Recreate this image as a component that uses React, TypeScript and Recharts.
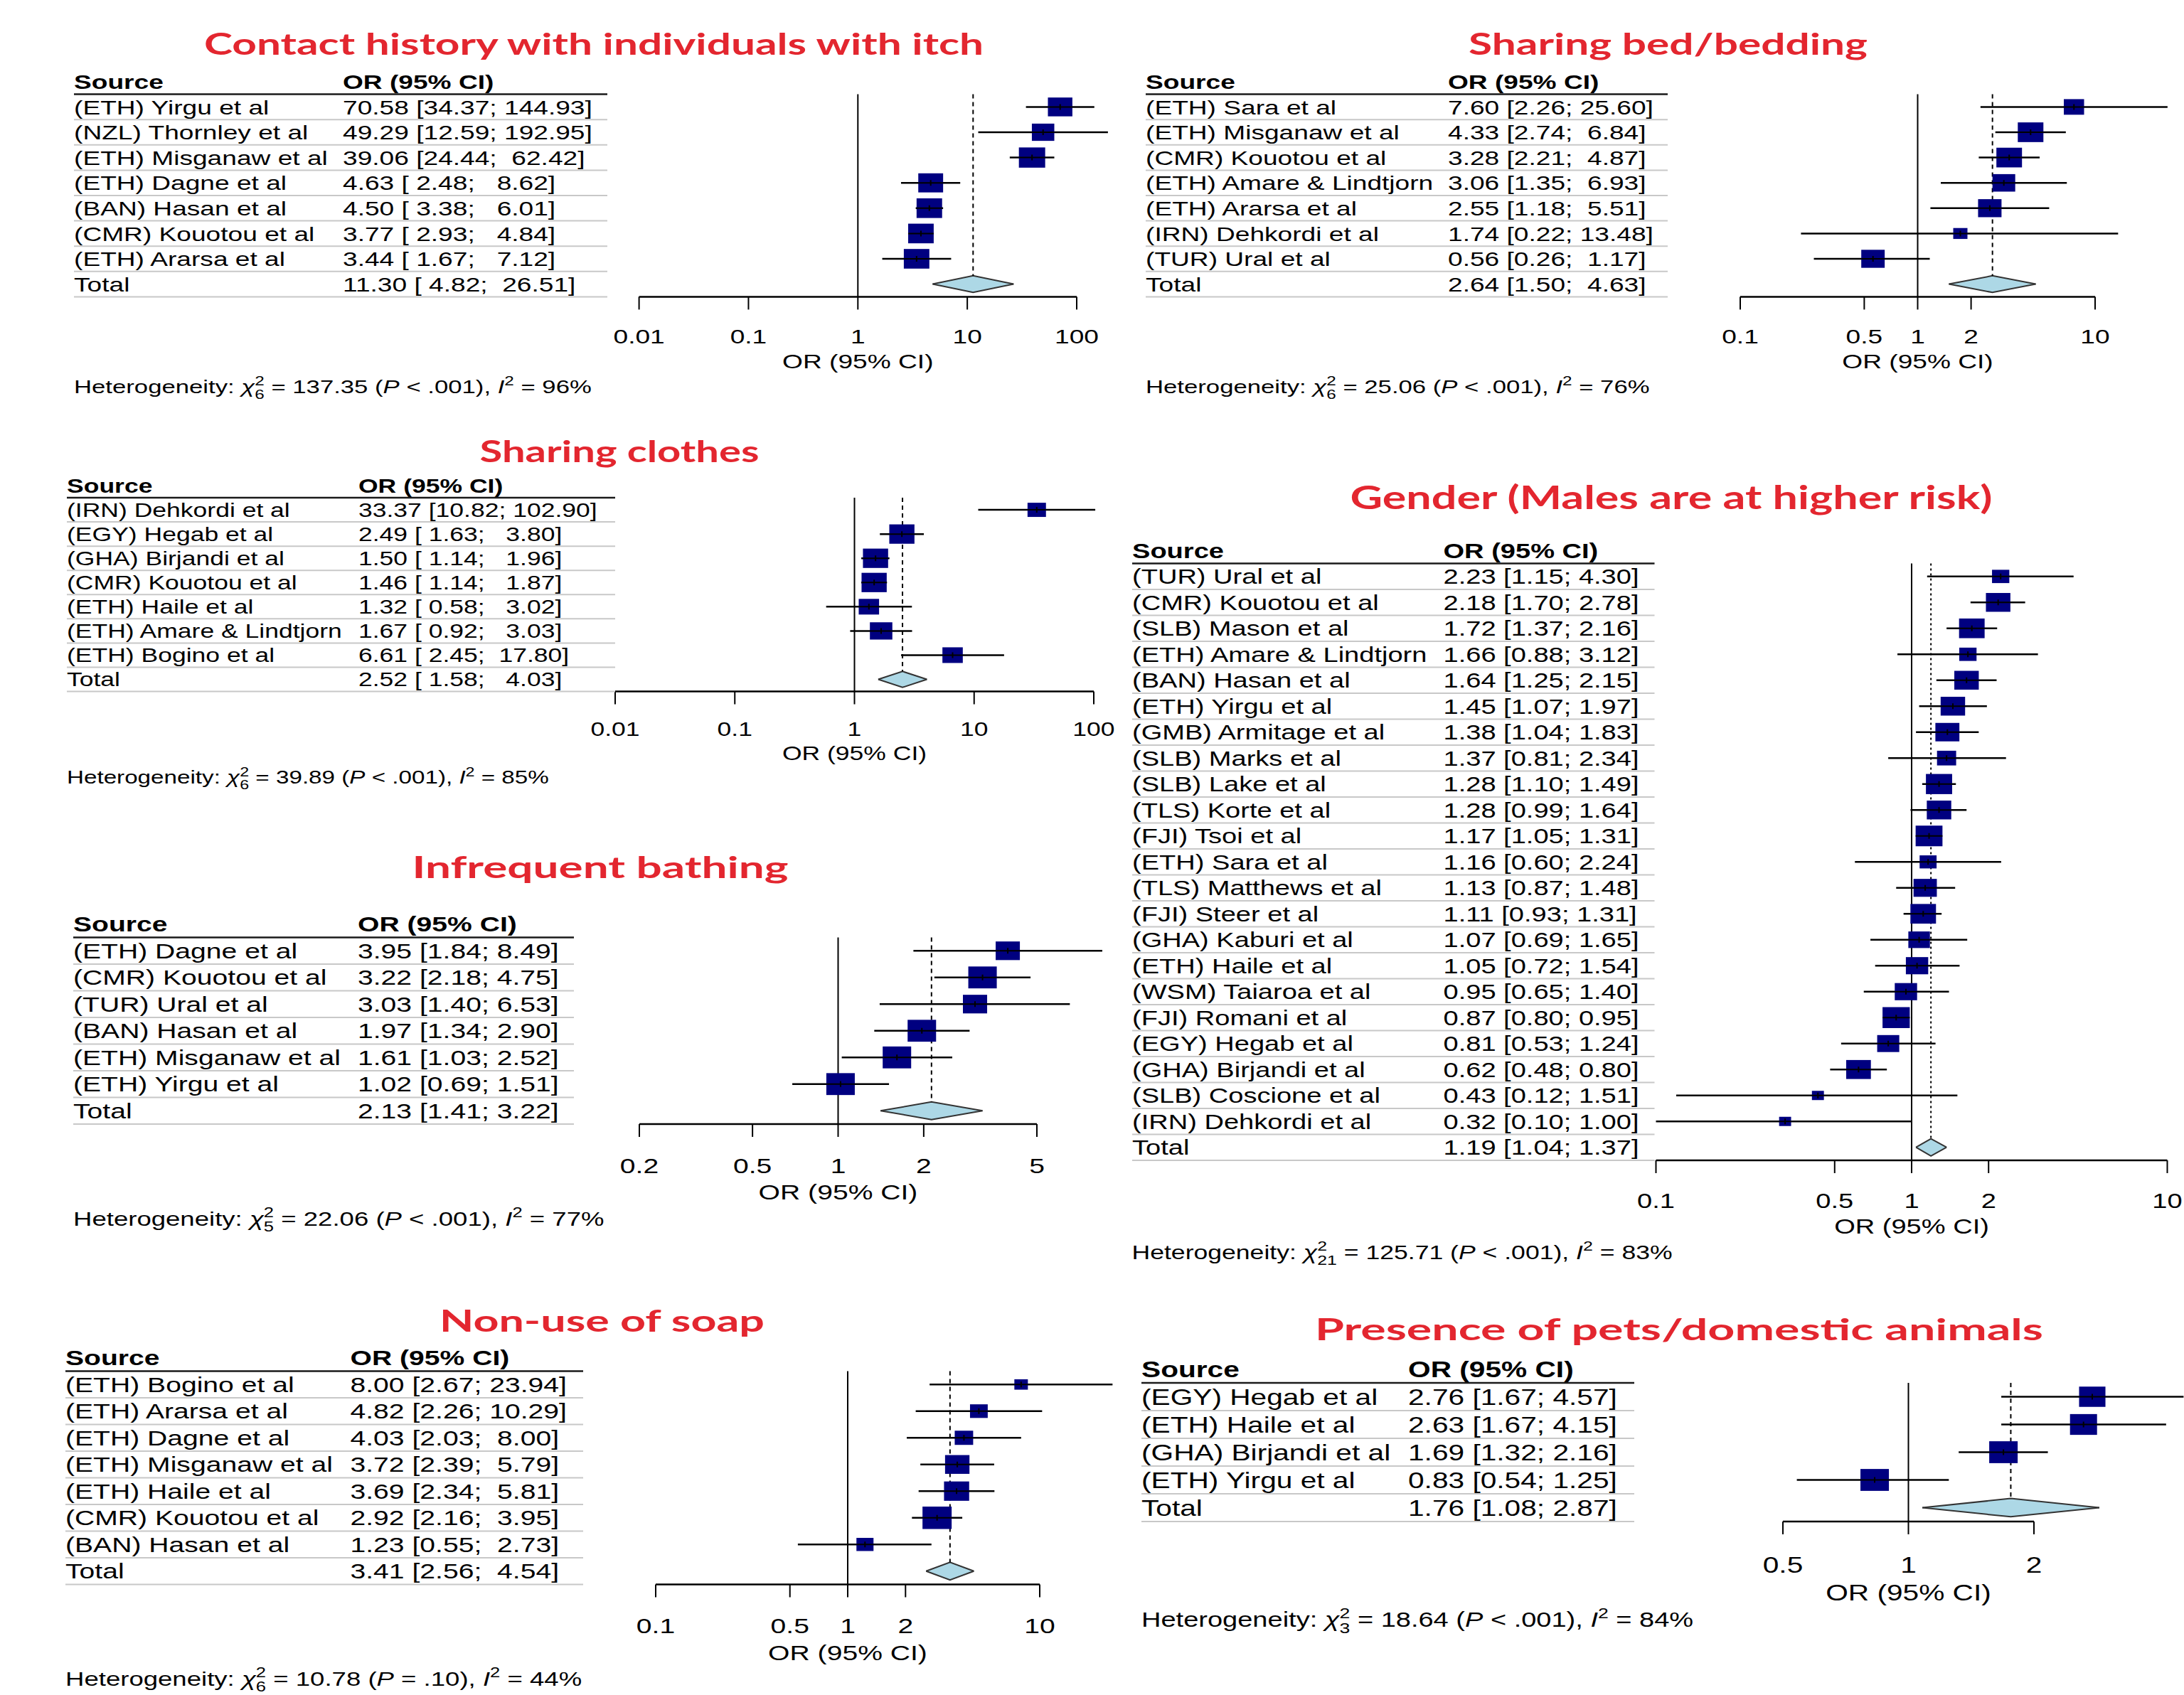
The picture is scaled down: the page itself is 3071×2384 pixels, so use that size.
import React from "react";
import { ComposedChart, XAxis, YAxis, Scatter, Area, ReferenceLine } from "recharts";

const TABLE_FONT = '"Liberation Sans", Arial, Helvetica, sans-serif';
const TITLE_FONT = 'Lato, "Open Sans", sans-serif';
const TITLE_RED = "#E3262F";
const BOX_FILL = "#000080";
const DIAMOND_FILL = "#ADD8E6";
const SX = 1.32;
const DIAMOND_H = 0.33;

// ---------- Contact history ----------
const contactTitle = "Contact history with individuals with itch";
const contactStudies = ["(ETH) Yirgu et al", "(NZL) Thornley et al", "(ETH) Misganaw et al", "(ETH) Dagne et al", "(BAN) Hasan et al", "(CMR) Kouotou et al", "(ETH) Ararsa et al"];
const contactOR = [70.58, 49.29, 39.06, 4.63, 4.5, 3.77, 3.44];
const contactLo = [34.37, 12.59, 24.44, 2.48, 3.38, 2.93, 1.67];
const contactHi = [144.93, 192.95, 62.42, 8.62, 6.01, 4.84, 7.12];
const contactWeight = [13.7, 11.5, 15.8, 14.1, 14.9, 14.9, 14.9];
const contactTotal = [11.3, 4.82, 26.51];
const contactTicks = [0.01, 0.1, 1, 10, 100];
const contactHet = { chi: "137.35", df: "6", p: "< .001", i2: "96" };

// ---------- Sharing bed ----------
const bedTitle = "Sharing bed/bedding";
const bedStudies = ["(ETH) Sara et al", "(ETH) Misganaw et al", "(CMR) Kouotou et al", "(ETH) Amare & Lindtjorn", "(ETH) Ararsa et al", "(IRN) Dehkordi et al", "(TUR) Ural et al"];
const bedOR = [7.6, 4.33, 3.28, 3.06, 2.55, 1.74, 0.56];
const bedLo = [2.26, 2.74, 2.21, 1.35, 1.18, 0.22, 0.26];
const bedHi = [25.6, 6.84, 4.87, 6.93, 5.51, 13.48, 1.17];
const bedWeight = [11.6, 18.5, 18.5, 14.6, 15.5, 5.7, 15.5];
const bedTotal = [2.64, 1.5, 4.63];
const bedTicks = [0.1, 0.5, 1, 2, 10];
const bedHet = { chi: "25.06", df: "6", p: "< .001", i2: "76" };

// ---------- Sharing clothes ----------
const clothesTitle = "Sharing clothes";
const clothesStudies = ["(IRN) Dehkordi et al", "(EGY) Hegab et al", "(GHA) Birjandi et al", "(CMR) Kouotou et al", "(ETH) Haile et al", "(ETH) Amare & Lindtjorn", "(ETH) Bogino et al"];
const clothesOR = [33.37, 2.49, 1.5, 1.46, 1.32, 1.67, 6.61];
const clothesLo = [10.82, 1.63, 1.14, 1.14, 0.58, 0.92, 2.45];
const clothesHi = [102.9, 3.8, 1.96, 1.87, 3.02, 3.03, 17.8];
const clothesWeight = [9.5, 17.7, 17.7, 17.7, 11.6, 14.1, 11.6];
const clothesTotal = [2.52, 1.58, 4.03];
const clothesTicks = [0.01, 0.1, 1, 10, 100];
const clothesHet = { chi: "39.89", df: "6", p: "< .001", i2: "85" };

// ---------- Infrequent bathing ----------
const bathingTitle = "Infrequent bathing";
const bathingStudies = ["(ETH) Dagne et al", "(CMR) Kouotou et al", "(TUR) Ural et al", "(BAN) Hasan et al", "(ETH) Misganaw et al", "(ETH) Yirgu et al"];
const bathingOR = [3.95, 3.22, 3.03, 1.97, 1.61, 1.02];
const bathingLo = [1.84, 2.18, 1.4, 1.34, 1.03, 0.69];
const bathingHi = [8.49, 4.75, 6.53, 2.9, 2.52, 1.51];
const bathingWeight = [13.3, 18.4, 13.3, 18.4, 18.4, 18.4];
const bathingTotal = [2.13, 1.41, 3.22];
const bathingTicks = [0.2, 0.5, 1, 2, 5];
const bathingHet = { chi: "22.06", df: "5", p: "< .001", i2: "77" };

// ---------- Gender ----------
const genderTitle = "Gender (Males are at higher risk)";
const genderStudies = ["(TUR) Ural et al", "(CMR) Kouotou et al", "(SLB) Mason et al", "(ETH) Amare & Lindtjorn", "(BAN) Hasan et al", "(ETH) Yirgu et al", "(GMB) Armitage et al", "(SLB) Marks et al", "(SLB) Lake et al", "(TLS) Korte et al", "(FJI) Tsoi et al", "(ETH) Sara et al", "(TLS) Matthews et al", "(FJI) Steer et al", "(GHA) Kaburi et al", "(ETH) Haile et al", "(WSM) Taiaroa et al", "(FJI) Romani et al", "(EGY) Hegab et al", "(GHA) Birjandi et al", "(SLB) Coscione et al", "(IRN) Dehkordi et al"];
const genderOR = [2.23, 2.18, 1.72, 1.66, 1.64, 1.45, 1.38, 1.37, 1.28, 1.28, 1.17, 1.16, 1.13, 1.11, 1.07, 1.05, 0.95, 0.87, 0.81, 0.62, 0.43, 0.32];
const genderLo = [1.15, 1.7, 1.37, 0.88, 1.25, 1.07, 1.04, 0.81, 1.1, 0.99, 1.05, 0.6, 0.87, 0.93, 0.69, 0.72, 0.65, 0.8, 0.53, 0.48, 0.12, 0.1];
const genderHi = [4.3, 2.78, 2.16, 3.12, 2.15, 1.97, 1.83, 2.34, 1.49, 1.64, 1.31, 2.24, 1.48, 1.31, 1.65, 1.54, 1.4, 0.95, 1.24, 0.8, 1.51, 1.0];
const genderWeight = [2.7, 5.4, 5.9, 2.7, 5.4, 5.4, 5.2, 3.3, 6.2, 5.4, 6.5, 2.6, 4.9, 5.9, 4.2, 4.5, 4.5, 6.7, 4.4, 5.5, 1.3, 1.3];
const genderTotal = [1.19, 1.04, 1.37];
const genderTicks = [0.1, 0.5, 1, 2, 10];
const genderHet = { chi: "125.71", df: "21", p: "< .001", i2: "83" };

// ---------- Non-use of soap ----------
const soapTitle = "Non-use of soap";
const soapStudies = ["(ETH) Bogino et al", "(ETH) Ararsa et al", "(ETH) Dagne et al", "(ETH) Misganaw et al", "(ETH) Haile et al", "(CMR) Kouotou et al", "(BAN) Hasan et al"];
const soapOR = [8.0, 4.82, 4.03, 3.72, 3.69, 2.92, 1.23];
const soapLo = [2.67, 2.26, 2.03, 2.39, 2.34, 2.16, 0.55];
const soapHi = [23.94, 10.29, 8.0, 5.79, 5.81, 3.95, 2.73];
const soapWeight = [5.7, 9.8, 10.6, 18.6, 19.7, 26.5, 9.1];
const soapTotal = [3.41, 2.56, 4.54];
const soapTicks = [0.1, 0.5, 1, 2, 10];
const soapHet = { chi: "10.78", df: "6", p: "= .10", i2: "44" };

// ---------- Pets ----------
const petsTitle = "Presence of pets/domestic animals";
const petsStudies = ["(EGY) Hegab et al", "(ETH) Haile et al", "(GHA) Birjandi et al", "(ETH) Yirgu et al"];
const petsOR = [2.76, 2.63, 1.69, 0.83];
const petsLo = [1.67, 1.67, 1.32, 0.54];
const petsHi = [4.57, 4.15, 2.16, 1.25];
const petsWeight = [22.8, 24.0, 26.6, 26.6];
const petsTotal = [1.76, 1.08, 2.87];
const petsTicks = [0.5, 1, 2];
const petsHet = { chi: "18.64", df: "3", p: "< .001", i2: "84" };

type Layout = {
  tableLeft: number; orX: number; tableRight: number; underline: number; rowH: number;
  axisX0: number; axisX1: number; right: number; domainMax?: number; boxK: number; dash: string;
  titleCx: number; titleY: number; titleW: number; titleSize: number;
};

type Panel = {
  title: string; studies: string[]; or: number[]; lo: number[]; hi: number[]; weight: number[];
  total: number[]; ticks: number[]; het: { chi: string; df: string; p: string; i2: string }; layout: Layout;
};

const panels: Panel[] = [
  { title: contactTitle, studies: contactStudies, or: contactOR, lo: contactLo, hi: contactHi, weight: contactWeight, total: contactTotal, ticks: contactTicks, het: contactHet,
    layout: { tableLeft: 104, orX: 482, tableRight: 854, underline: 133, rowH: 35.6, axisX0: 898.6, axisX1: 1514, right: 1580, boxK: 9.3, dash: "6 5", titleCx: 835, titleY: 77, titleW: 1096, titleSize: 42 } },
  { title: bedTitle, studies: bedStudies, or: bedOR, lo: bedLo, hi: bedHi, weight: bedWeight, total: bedTotal, ticks: bedTicks, het: bedHet,
    layout: { tableLeft: 1611, orX: 2036, tableRight: 2345, underline: 133, rowH: 35.6, axisX0: 2447, axisX1: 2946, right: 3071, boxK: 8.37, dash: "6 5", titleCx: 2345.5, titleY: 77, titleW: 561, titleSize: 42 } },
  { title: clothesTitle, studies: clothesStudies, or: clothesOR, lo: clothesLo, hi: clothesHi, weight: clothesWeight, total: clothesTotal, ticks: clothesTicks, het: clothesHet,
    layout: { tableLeft: 94, orX: 504, tableRight: 865, underline: 700.5, rowH: 34.06, axisX0: 865, axisX1: 1538, right: 1580, boxK: 8.41, dash: "6 5", titleCx: 871, titleY: 650, titleW: 393, titleSize: 42 } },
  { title: bathingTitle, studies: bathingStudies, or: bathingOR, lo: bathingLo, hi: bathingHi, weight: bathingWeight, total: bathingTotal, ticks: bathingTicks, het: bathingHet,
    layout: { tableLeft: 103, orX: 503, tableRight: 807, underline: 1318.6, rowH: 37.5, axisX0: 899, axisX1: 1458, right: 1580, boxK: 9.33, dash: "6 5", titleCx: 844, titleY: 1235, titleW: 529, titleSize: 42 } },
  { title: genderTitle, studies: genderStudies, or: genderOR, lo: genderLo, hi: genderHi, weight: genderWeight, total: genderTotal, ticks: genderTicks, het: genderHet,
    layout: { tableLeft: 1591.5, orX: 2029, tableRight: 2326, underline: 792.7, rowH: 36.5, axisX0: 2328, axisX1: 3047, right: 3071, boxK: 14.8, dash: "3 4", titleCx: 2350, titleY: 716, titleW: 903, titleSize: 45 } },
  { title: soapTitle, studies: soapStudies, or: soapOR, lo: soapLo, hi: soapHi, weight: soapWeight, total: soapTotal, ticks: soapTicks, het: soapHet,
    layout: { tableLeft: 92, orX: 492.5, tableRight: 820, underline: 1928, rowH: 37.5, axisX0: 922, axisX1: 1462, right: 1580, boxK: 7.96, dash: "6 5", titleCx: 846.5, titleY: 1873, titleW: 457, titleSize: 42 } },
  { title: petsTitle, studies: petsStudies, or: petsOR, lo: petsLo, hi: petsHi, weight: petsWeight, total: petsTotal, ticks: petsTicks, het: petsHet,
    layout: { tableLeft: 1605, orX: 1980, tableRight: 2298, underline: 1945, rowH: 39, axisX0: 2507, axisX1: 2860, right: 3071, domainMax: 4.5, boxK: 7.76, dash: "6 5", titleCx: 2361, titleY: 1885, titleW: 1024, titleSize: 42 } },
];

function SText(props: { x: number; y: number; children: any; anchor?: string; bold?: boolean; size: number; sx?: number }) {
  const { x, y, children, anchor = "start", bold = false, size, sx = SX } = props;
  return (
    <text
      transform={`translate(${x} ${y}) scale(${sx} 1)`}
      x={0}
      y={0}
      textAnchor={anchor as any}
      fontFamily={TABLE_FONT}
      fontSize={size}
      fontWeight={bold ? 700 : 400}
      fill="#000"
      style={{ whiteSpace: "pre" }}
    >
      {children}
    </text>
  );
}

function fmtCI(or: number, lo: number, hi: number, loW: number, hiW: number) {
  return `${or.toFixed(2)} [${lo.toFixed(2).padStart(loW)}; ${hi.toFixed(2).padStart(hiW)}]`;
}

function ForestPanel({ p }: { p: Panel }) {
  const L = p.layout;
  const n = p.studies.length;
  const fs = 0.79 * L.rowH;
  const axisMin = p.ticks[0];
  const axisMax = p.ticks[p.ticks.length - 1];
  const domainMax = L.domainMax ?? axisMax;
  const plotLeft = L.axisX0;
  const plotRight = L.axisX0 + ((L.axisX1 - L.axisX0) * Math.log(domainMax / axisMin)) / Math.log(axisMax / axisMin);
  const chartLeft = L.tableLeft - 10;
  const chartTop = L.underline - L.rowH;
  const xAxisH = 3.1 * L.rowH;
  const width = L.right - chartLeft;
  const height = (n + 2) * L.rowH + xAxisH;
  const TICK = 18;

  const [tor, tlo, thi] = p.total;
  const loW = Math.max(...[...p.lo, tlo].map((v) => v.toFixed(2).length));
  const hiW = Math.max(...[...p.hi, thi].map((v) => v.toFixed(2).length));
  const orTexts = p.or.map((v, i) => fmtCI(v, p.lo[i], p.hi[i], loW, hiW));
  const totalText = fmtCI(tor, tlo, thi, loW, hiW);

  const points = p.or.map((v, i) => ({ x: v, y: i + 1, w: p.weight[i] }));
  const diamond = [
    { x: tlo, band: [n + 1, n + 1] },
    { x: tor, band: [n + 1 - DIAMOND_H, n + 1 + DIAMOND_H] },
    { x: thi, band: [n + 1, n + 1] },
  ];
  const rowTicks = [0, ...p.studies.map((_, i) => i + 1), n + 1];

  const tableTick = (tp: any) => {
    const v = tp.payload.value;
    const y = tp.y;
    const base = y + 0.36 * fs;
    const ly = y + L.rowH / 2;
    const tl = L.tableLeft - chartLeft;
    const ox = L.orX - chartLeft;
    const tr = L.tableRight - chartLeft;
    let name = "";
    let txt = "";
    let bold = false;
    let lc = "#c8c8c8";
    let lw = 2;
    if (v === 0) {
      name = "Source";
      txt = "OR (95% CI)";
      bold = true;
      lc = "#1a1a1a";
      lw = 2.5;
    } else if (v === n + 1) {
      name = "Total";
      txt = totalText;
    } else {
      name = p.studies[v - 1];
      txt = orTexts[v - 1];
    }
    return (
      <g>
        <SText x={tl} y={base} size={fs} bold={bold}>{name}</SText>
        <SText x={ox} y={base} size={fs} bold={bold}>{txt}</SText>
        <line x1={tl} x2={tr} y1={ly} y2={ly} stroke={lc} strokeWidth={lw} />
      </g>
    );
  };

  const xTick = (tp: any) => {
    const v = tp.payload.value;
    const axisY = tp.y - TICK;
    return (
      <g>
        <SText x={tp.x} y={axisY + 1.55 * L.rowH + 0.36 * fs} size={fs} anchor="middle">{String(v)}</SText>
        {v === 1 ? (
          <SText x={tp.x} y={axisY + 2.55 * L.rowH + 0.36 * fs} size={fs} anchor="middle">OR (95% CI)</SText>
        ) : null}
      </g>
    );
  };

  const boxShape = (sp: any) => {
    const { cx, cy, payload } = sp;
    const bw = L.boxK * Math.sqrt(payload.w);
    const bh = bw / 1.3;
    return (
      <g>
        <rect x={cx - bw / 2} y={cy - bh / 2} width={bw} height={bh} fill={BOX_FILL} />
        <line x1={cx - bw / 2} x2={cx + bw / 2} y1={cy} y2={cy} stroke="#000" strokeWidth={2} />
        <line x1={cx} x2={cx} y1={cy - 4} y2={cy + 4} stroke="#000" strokeWidth={2} />
      </g>
    );
  };

  return (
    <div style={{ position: "absolute", left: chartLeft, top: chartTop }}>
      <ComposedChart width={width} height={height} margin={{ top: 0, right: L.right - plotRight, bottom: 0, left: 0 }}>
        <XAxis
          type="number"
          dataKey="x"
          scale="log"
          domain={[axisMin, domainMax]}
          allowDataOverflow
          ticks={p.ticks}
          interval={0}
          axisLine={false}
          tickLine={{ stroke: "#000", strokeWidth: 2 }}
          tickSize={TICK}
          tickMargin={0}
          height={xAxisH}
          tick={xTick}
        />
        <YAxis
          type="number"
          dataKey="y"
          domain={[-0.5, n + 1.5]}
          reversed
          allowDataOverflow
          ticks={rowTicks}
          interval={0}
          width={plotLeft - chartLeft}
          axisLine={false}
          tickLine={false}
          tick={tableTick}
        />
        <ReferenceLine segment={[{ x: 1, y: 0.5 }, { x: 1, y: n + 1.5 }]} stroke="#000" strokeWidth={2} ifOverflow="visible" />
        <ReferenceLine segment={[{ x: tor, y: 0.5 }, { x: tor, y: n + 1 - DIAMOND_H }]} stroke="#000" strokeWidth={2} strokeDasharray={L.dash} ifOverflow="visible" />
        <ReferenceLine segment={[{ x: axisMin, y: n + 1.5 }, { x: axisMax, y: n + 1.5 }]} stroke="#000" strokeWidth={2.5} ifOverflow="visible" />
        {p.or.map((_, i) => (
          <ReferenceLine key={i} segment={[{ x: p.lo[i], y: i + 1 }, { x: p.hi[i], y: i + 1 }]} stroke="#000" strokeWidth={2.5} ifOverflow="visible" />
        ))}
        <Area data={diamond} dataKey="band" type="linear" fill={DIAMOND_FILL} fillOpacity={1} stroke="#333" strokeWidth={2} dot={false} activeDot={false} isAnimationActive={false} />
        <Scatter data={points} shape={boxShape} isAnimationActive={false} />
      </ComposedChart>
    </div>
  );
}

function HetText({ x, y, size, het }: { x: number; y: number; size: number; het: Panel["het"] }) {
  const s = size * 0.7;
  const supDy = -0.42 * size;
  const subDy = 0.3 * size;
  const w2 = 0.556 * s;
  return (
    <text transform={`translate(${x} ${y}) scale(1.3 1)`} fontFamily={TABLE_FONT} fontSize={size} fill="#000" style={{ whiteSpace: "pre" }}>
      <tspan>Heterogeneity: </tspan>
      <tspan fontStyle="italic">χ</tspan>
      <tspan fontSize={s} dy={supDy}>2</tspan>
      <tspan fontSize={s} dx={-w2} dy={-supDy + subDy}>{het.df}</tspan>
      <tspan dy={-subDy}>{` = ${het.chi} (`}</tspan>
      <tspan fontStyle="italic">P</tspan>
      <tspan>{` ${het.p}), `}</tspan>
      <tspan fontStyle="italic">I</tspan>
      <tspan fontSize={s} dy={supDy}>2</tspan>
      <tspan dy={-supDy}>{` = ${het.i2}%`}</tspan>
    </text>
  );
}

export default function App() {
  return (
    <div style={{ position: "absolute", left: 0, top: 0, width: 3071, height: 2384, background: "#fff", overflow: "hidden" }}>
      {panels.map((p, i) => (
        <ForestPanel key={i} p={p} />
      ))}
      <svg width={3071} height={2384} style={{ position: "absolute", left: 0, top: 0, pointerEvents: "none" }}>
        {panels.map((p, i) => {
          const L = p.layout;
          const n = p.studies.length;
          const axisY = L.underline + (n + 1) * L.rowH;
          return (
            <g key={i}>
              <text
                x={L.titleCx}
                y={L.titleY}
                textAnchor="middle"
                fontFamily={TITLE_FONT}
                fontWeight={700}
                fontSize={L.titleSize}
                fill={TITLE_RED}
                textLength={L.titleW}
                lengthAdjust="spacingAndGlyphs"
              >
                {p.title}
              </text>
              <HetText x={L.tableLeft} y={axisY + 3.8 * L.rowH} size={0.75 * L.rowH} het={p.het} />
            </g>
          );
        })}
      </svg>
    </div>
  );
}
